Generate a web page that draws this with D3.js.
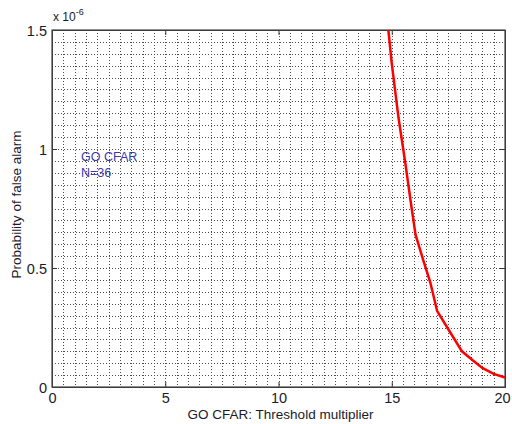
<!DOCTYPE html>
<html>
<head>
<meta charset="utf-8">
<script src="https://cdn.jsdelivr.net/npm/d3@7"></script>
<style>
  body { margin: 0; background: #fff; }
  text { font-family: "Liberation Sans", Arial, sans-serif; }
</style>
</head>
<body>
<script>
// data (pfa in units of 1e-6)
const threshold = [14.85, 15.0, 15.3, 15.6, 15.85, 16.05, 16.4, 16.7, 17.0, 17.45, 18.1, 18.6, 19.0, 19.5, 20.0];
const pfa = [1.5, 1.36, 1.13, 0.94, 0.77, 0.64, 0.53, 0.44, 0.32, 0.25, 0.15, 0.11, 0.08, 0.055, 0.04];
const xTicks = [0, 5, 10, 15, 20];
const yTicks = [0, 0.5, 1, 1.5];

const dims = { width: 512, height: 424 };
const m = { left: 52, right: 7, top: 30, bottom: 37 };
const w = dims.width - m.left - m.right;
const h = dims.height - m.top - m.bottom;

const svg = d3.select("body").append("svg")
    .attr("width", dims.width)
    .attr("height", dims.height);

const x = d3.scaleLinear().domain([0, 20]).range([0, w]);
const y = d3.scaleLinear().domain([0, 1.5]).range([h, 0]);

const g = svg.append("g").attr("transform", `translate(${m.left},${m.top})`);

// dense dotted grid
const grid = g.append("g").attr("stroke", "#000").attr("stroke-dasharray", "1,2")
    .attr("stroke-width", 1).attr("opacity", 0.7);
grid.selectAll(".vg").data(d3.range(0.5, 20, 0.5)).enter().append("line")
    .attr("x1", d => Math.round(x(d)) + 0.5).attr("x2", d => Math.round(x(d)) + 0.5)
    .attr("y1", 0).attr("y2", h);
grid.selectAll(".hg").data(d3.range(1, 30).map(i => i * 0.05)).enter().append("line")
    .attr("y1", d => Math.round(y(d)) + 0.5).attr("y2", d => Math.round(y(d)) + 0.5)
    .attr("x1", 0).attr("x2", w);

// axes, ticks pointing inward
const xAxis = d3.axisBottom(x).tickValues(xTicks).tickSize(-5).tickPadding(6).tickFormat(d3.format("d"));
const yAxis = d3.axisLeft(y).tickValues(yTicks).tickSize(-5).tickPadding(5).tickFormat(d => d);

const gx = g.append("g").attr("transform", `translate(0,${h})`).call(xAxis);
const gy = g.append("g").call(yAxis);
g.append("g").call(d3.axisTop(x).tickValues(xTicks).tickSize(-5).tickFormat(""));
g.append("g").attr("transform", `translate(${w},0)`).call(d3.axisRight(y).tickValues(yTicks).tickSize(-5).tickFormat(""));

g.selectAll(".domain").attr("stroke", "#333");
g.selectAll(".tick line").attr("stroke", "#333");
[gx, gy].forEach(a => a.selectAll("text").attr("font-size", 14.5).attr("fill", "#1a1a2a")
    .attr("font-family", "Liberation Sans, Arial, sans-serif"));
gy.selectAll("text").attr("dy", "0.35em");
// keep the last x label inside the window
gx.selectAll("text").filter(d => d === 20).attr("dx", -3);

// frame
g.append("rect").attr("width", w).attr("height", h)
    .attr("fill", "none").attr("stroke", "#444").attr("stroke-width", 1.2);

// curve
const line = d3.line().x((d, i) => x(threshold[i])).y(d => y(d));
g.append("path").datum(pfa)
    .attr("d", line)
    .attr("fill", "none")
    .attr("stroke", "#ff0000")
    .attr("stroke-width", 2.5);

// exponent label
const ex = svg.append("text").attr("x", 53).attr("y", 21).attr("font-size", 12).attr("fill", "#1a1a2a");
ex.append("tspan").text("x 10");
ex.append("tspan").attr("dy", -6).attr("font-size", 9).text("-6");

// annotation
svg.append("text").attr("x", 81).attr("y", 161).attr("font-size", 12.5).attr("fill", "#3a3aa8").text("GO CFAR");
svg.append("text").attr("x", 81).attr("y", 177).attr("font-size", 12.5).attr("fill", "#3a3aa8").text("N=36");

// axis labels
svg.append("text")
    .attr("x", m.left + w / 2 + 2).attr("y", 419)
    .attr("text-anchor", "middle").attr("font-size", 13.5).attr("fill", "#1a1a2a")
    .text("GO CFAR: Threshold multiplier");
svg.append("text")
    .attr("transform", `translate(21,${m.top + h / 2 - 4}) rotate(-90)`)
    .attr("text-anchor", "middle").attr("font-size", 13.5).attr("fill", "#1a1a2a")
    .text("Probability of false alarm");
</script>
</body>
</html>
